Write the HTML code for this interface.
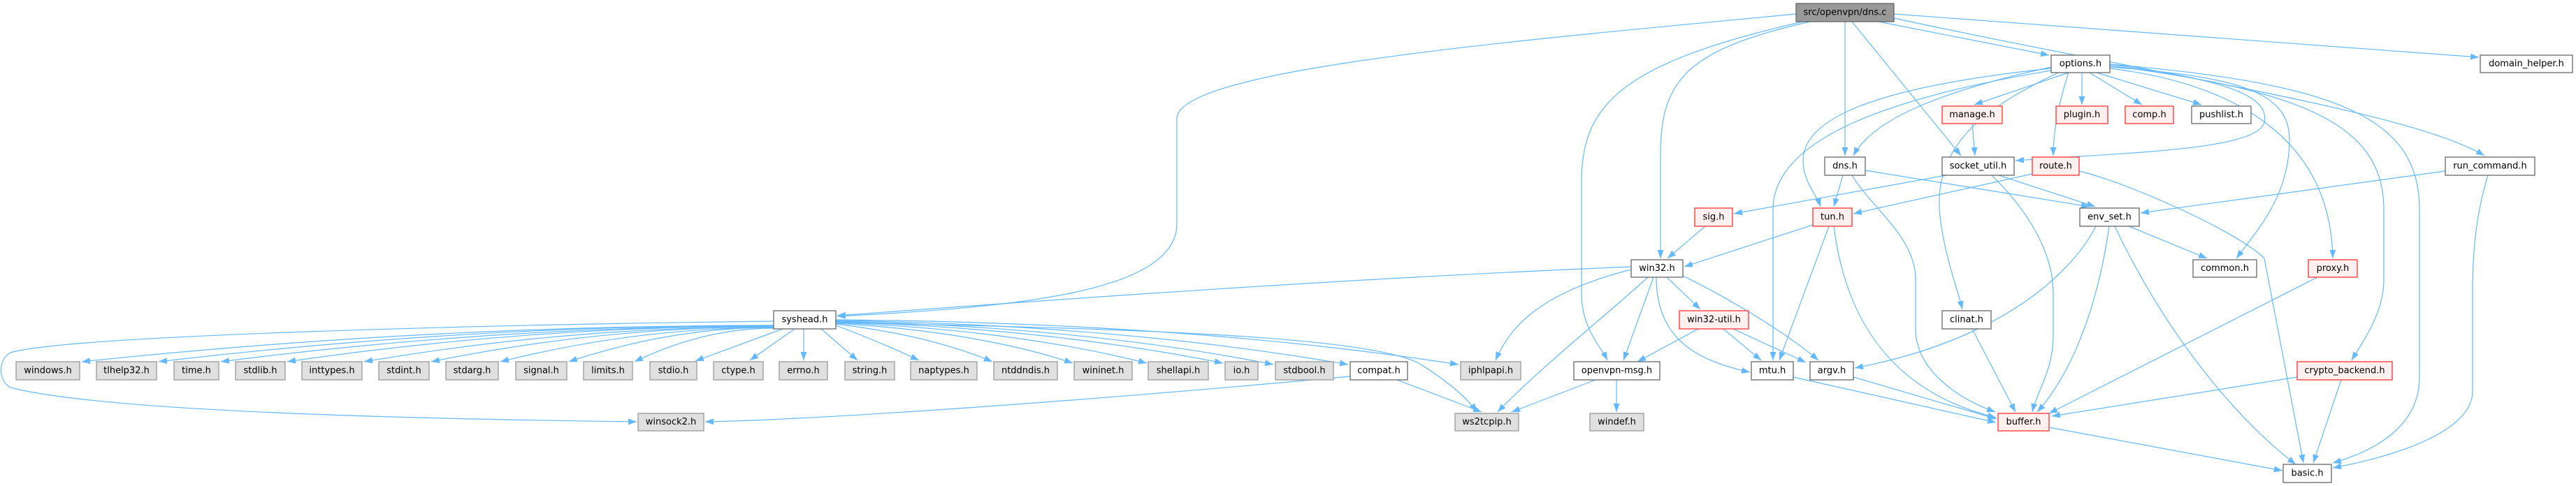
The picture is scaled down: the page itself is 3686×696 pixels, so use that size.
<!DOCTYPE html>
<html><head><meta charset="utf-8"><style>
html,body{margin:0;padding:0;background:#fff;}
svg{display:block;}
text{font-family:"DejaVu Sans","Liberation Sans",sans-serif;font-size:13px;fill:#000;text-anchor:middle;dominant-baseline:central;}
.e{fill:none;stroke:#63b8ff;stroke-width:1.2;marker-end:url(#a);}
.w{fill:#fff;stroke:#666;stroke-width:1.3;}
.g{fill:#e0e0e0;stroke:#999;stroke-width:1.3;}
.r{fill:#fff0f0;stroke:#ff3030;stroke-width:1.3;}
.k{fill:#999;stroke:#666;stroke-width:1.3;}
</style></head><body>
<svg width="3686" height="696" viewBox="0 0 3686 696" xmlns="http://www.w3.org/2000/svg">
<defs><marker id="a" markerUnits="userSpaceOnUse" markerWidth="13" markerHeight="10" refX="12" refY="4.5" orient="auto"><path d="M0,0 L12,4.5 L0,9 z" fill="#63b8ff"/></marker></defs>
<g>
<path class="e" d="M2570,20 C2150,60 1684,100 1684,170 L1684,320 C1684,420 1450,440 1198,453"/>
<path class="e" d="M2688,31 L2932,79"/>
<path class="e" d="M2710,20 L3547,82"/>
<path class="e" d="M2710,26 C3100,110 3450,160 3555,223"/>
<path class="e" d="M2640,31 L2640,223"/>
<path class="e" d="M2650,31 L2806,223"/>
<path class="e" d="M2590,31 C2420,70 2376,110 2376,220 L2376,370"/>
<path class="e" d="M2580,31 C2320,90 2263,150 2263,260 L2263,420 C2263,470 2290,495 2300,516"/>
<path class="e" d="M2960,104 L2825,150"/>
<path class="e" d="M2979,104 L2979,150"/>
<path class="e" d="M2990,104 L3065,150"/>
<path class="e" d="M3000,104 L3150,150"/>
<path class="e" d="M2935,96 C2780,130 2680,170 2652,223"/>
<path class="e" d="M3019,92 C3150,110 3250,130 3240,175 C3230,215 3050,218 2884,230"/>
<path class="e" d="M2960,104 C2945,150 2938,190 2938,223"/>
<path class="e" d="M2935,98 C2680,125 2580,170 2580,230 C2580,260 2600,280 2605,296"/>
<path class="e" d="M2935,101 C2700,140 2537,200 2537,300 L2537,516"/>
<path class="e" d="M2945,104 C2850,150 2770,200 2775,300 C2780,360 2800,410 2808,443"/>
<path class="e" d="M3019,96 C3200,110 3276,130 3276,200 C3276,280 3230,330 3200,370"/>
<path class="e" d="M3019,98 C3200,120 3335,200 3338,370"/>
<path class="e" d="M3019,94 C3300,130 3411,180 3411,300 L3411,400 C3411,450 3380,490 3365,516"/>
<path class="e" d="M3019,92 C3350,120 3462,170 3462,300 L3462,540 C3462,610 3400,645 3338,663"/>
<path class="e" d="M2822,177 L2826,223"/>
<path class="e" d="M2637,251 L2624,296"/>
<path class="e" d="M2669,244 L2990,296"/>
<path class="e" d="M2650,251 C2680,300 2741,340 2741,400 L2741,470 C2741,530 2800,570 2855,590"/>
<path class="e" d="M2785,251 L2481,306"/>
<path class="e" d="M2860,251 L2998,296"/>
<path class="e" d="M2850,251 C2900,300 2938,360 2938,420 L2938,480 C2938,530 2915,560 2908,590"/>
<path class="e" d="M2908,249 L2652,306"/>
<path class="e" d="M2975,245 C3040,260 3200,330 3240,370 L3296,663"/>
<path class="e" d="M3499,245 L3063,305"/>
<path class="e" d="M3560,251 C3545,300 3538,350 3538,420 L3538,560 C3538,620 3420,655 3338,670"/>
<path class="e" d="M2440,324 L2386,370"/>
<path class="e" d="M2594,322 L2410,382"/>
<path class="e" d="M2617,324 L2546,516"/>
<path class="e" d="M2624,324 C2640,450 2700,560 2856,598"/>
<path class="e" d="M2999,324 C2960,400 2850,490 2654,527"/>
<path class="e" d="M3018,324 C3000,450 2960,540 2915,590"/>
<path class="e" d="M3026,324 C3100,480 3200,600 3285,665"/>
<path class="e" d="M3046,324 L3158,370"/>
<path class="e" d="M3316,397 L2932,592"/>
<path class="e" d="M3287,540 L2936,596"/>
<path class="e" d="M3350,544 L3310,663"/>
<path class="e" d="M2932,612 L3266,674"/>
<path class="e" d="M2822,471 L2884,590"/>
<path class="e" d="M2334,382 C1900,400 1500,430 1198,452"/>
<path class="e" d="M2334,386 C2200,420 2160,470 2140,516"/>
<path class="e" d="M2358,397 C2300,450 2200,530 2143,590"/>
<path class="e" d="M2366,397 L2323,516"/>
<path class="e" d="M2370,397 C2370,480 2420,515 2504,533"/>
<path class="e" d="M2385,397 L2433,443"/>
<path class="e" d="M2408,395 C2480,430 2560,480 2602,516"/>
<path class="e" d="M2430,471 L2343,518"/>
<path class="e" d="M2466,471 L2520,516"/>
<path class="e" d="M2480,471 L2584,519"/>
<path class="e" d="M2283,544 L2163,590"/>
<path class="e" d="M2313,544 L2313,590"/>
<path class="e" d="M2566,540 L2856,605"/>
<path class="e" d="M2652,540 L2857,600"/>
<path class="e" d="M1999,544 L2120,590"/>
<path class="e" d="M1932,539 C1600,570 1200,600 1009,604"/>
<path class="e" d="M1107,460 C700,465 100,480 15,505 C-3,515 -3,545 15,555 C150,590 600,600 911,604"/>
<path class="e" d="M1196,462 C1600,470 1950,480 2030,520 C2070,545 2100,570 2113,590"/>
<path class="e" d="M1107,466 Q612,466 117,518"/>
<path class="e" d="M1107,466 Q667,466 227,518"/>
<path class="e" d="M1107,467 Q711,467 316,518"/>
<path class="e" d="M1107,467 Q759,467 411,518"/>
<path class="e" d="M1107,468 Q814,468 521,518"/>
<path class="e" d="M1107,468 Q862,468 617,518"/>
<path class="e" d="M1107,469 Q911,469 716,518"/>
<path class="e" d="M1107,469 Q960,469 814,518"/>
<path class="e" d="M1107,470 Q1007,470 908,518"/>
<path class="e" d="M1120,471 L995,517"/>
<path class="e" d="M1137,471 L1073,516"/>
<path class="e" d="M1150,471 L1150,516"/>
<path class="e" d="M1175,471 L1227,516"/>
<path class="e" d="M1196,466 Q1260,490 1315,516"/>
<path class="e" d="M1196,464 Q1330,480 1420,518"/>
<path class="e" d="M1196,463 Q1400,475 1535,520"/>
<path class="e" d="M1196,462 Q1450,472 1641,520"/>
<path class="e" d="M1196,461 Q1500,470 1750,520"/>
<path class="e" d="M1196,460 Q1550,468 1822,522"/>
<path class="e" d="M1196,459 Q1600,465 1929,522"/>
<path class="e" d="M1196,458 Q1700,462 2087,522"/>
</g>
<g>
<rect class="k" x="2570" y="5" width="140" height="26"/><text x="2640" y="18">src/openvpn/dns.c</text>
<rect class="w" x="2935" y="79" width="84" height="25"/><text x="2977" y="91.5">options.h</text>
<rect class="w" x="3549" y="79" width="132" height="25"/><text x="3615" y="91.5">domain_helper.h</text>
<rect class="r" x="2779" y="152" width="86" height="25"/><text x="2822" y="164.5">manage.h</text>
<rect class="r" x="2942" y="152" width="74" height="25"/><text x="2979" y="164.5">plugin.h</text>
<rect class="r" x="3041" y="152" width="69" height="25"/><text x="3075.5" y="164.5">comp.h</text>
<rect class="w" x="3136" y="152" width="85" height="25"/><text x="3178.5" y="164.5">pushlist.h</text>
<rect class="w" x="2611" y="225" width="58" height="26"/><text x="2640" y="238">dns.h</text>
<rect class="w" x="2779" y="225" width="103" height="26"/><text x="2830.5" y="238">socket_util.h</text>
<rect class="r" x="2908" y="225" width="67" height="26"/><text x="2941.5" y="238">route.h</text>
<rect class="w" x="3499" y="225" width="128" height="26"/><text x="3563" y="238">run_command.h</text>
<rect class="r" x="2425" y="298" width="54" height="26"/><text x="2452" y="311">sig.h</text>
<rect class="r" x="2594" y="298" width="56" height="26"/><text x="2622" y="311">tun.h</text>
<rect class="w" x="2976" y="298" width="85" height="26"/><text x="3018.5" y="311">env_set.h</text>
<rect class="w" x="2334" y="372" width="74" height="25"/><text x="2371" y="384.5">win32.h</text>
<rect class="w" x="3138" y="372" width="91" height="25"/><text x="3183.5" y="384.5">common.h</text>
<rect class="r" x="3303" y="372" width="70" height="25"/><text x="3338" y="384.5">proxy.h</text>
<rect class="w" x="1107" y="445" width="89" height="26"/><text x="1151.5" y="458">syshead.h</text>
<rect class="r" x="2403" y="445" width="99" height="26"/><text x="2452.5" y="458">win32-util.h</text>
<rect class="w" x="2779" y="445" width="70" height="26"/><text x="2814" y="458">clinat.h</text>
<rect class="g" x="23" y="518" width="91" height="26"/><text x="68.5" y="531">windows.h</text>
<rect class="g" x="138" y="518" width="86" height="26"/><text x="181" y="531">tlhelp32.h</text>
<rect class="g" x="249" y="518" width="64" height="26"/><text x="281" y="531">time.h</text>
<rect class="g" x="337" y="518" width="71" height="26"/><text x="372.5" y="531">stdlib.h</text>
<rect class="g" x="432" y="518" width="86" height="26"/><text x="475" y="531">inttypes.h</text>
<rect class="g" x="542" y="518" width="72" height="26"/><text x="578" y="531">stdint.h</text>
<rect class="g" x="638" y="518" width="75" height="26"/><text x="675.5" y="531">stdarg.h</text>
<rect class="g" x="738" y="518" width="73" height="26"/><text x="774.5" y="531">signal.h</text>
<rect class="g" x="835" y="518" width="70" height="26"/><text x="870" y="531">limits.h</text>
<rect class="g" x="930" y="518" width="67" height="26"/><text x="963.5" y="531">stdio.h</text>
<rect class="g" x="1021" y="518" width="71" height="26"/><text x="1056.5" y="531">ctype.h</text>
<rect class="g" x="1115" y="518" width="69" height="26"/><text x="1149.5" y="531">errno.h</text>
<rect class="g" x="1209" y="518" width="71" height="26"/><text x="1244.5" y="531">string.h</text>
<rect class="g" x="1303" y="518" width="95" height="26"/><text x="1350.5" y="531">naptypes.h</text>
<rect class="g" x="1422" y="518" width="91" height="26"/><text x="1467.5" y="531">ntddndis.h</text>
<rect class="g" x="1537" y="518" width="83" height="26"/><text x="1578.5" y="531">wininet.h</text>
<rect class="g" x="1643" y="518" width="86" height="26"/><text x="1686" y="531">shellapi.h</text>
<rect class="g" x="1753" y="518" width="47" height="26"/><text x="1776.5" y="531">io.h</text>
<rect class="g" x="1825" y="518" width="83" height="26"/><text x="1866.5" y="531">stdbool.h</text>
<rect class="w" x="1932" y="518" width="82" height="26"/><text x="1973" y="531">compat.h</text>
<rect class="g" x="2090" y="518" width="86" height="26"/><text x="2133" y="531">iphlpapi.h</text>
<rect class="w" x="2252" y="518" width="123" height="26"/><text x="2313.5" y="531">openvpn-msg.h</text>
<rect class="w" x="2506" y="518" width="60" height="26"/><text x="2536" y="531">mtu.h</text>
<rect class="w" x="2590" y="518" width="62" height="26"/><text x="2621" y="531">argv.h</text>
<rect class="r" x="3287" y="518" width="136" height="26"/><text x="3355" y="531">crypto_backend.h</text>
<rect class="g" x="913" y="592" width="94" height="25"/><text x="960" y="604.5">winsock2.h</text>
<rect class="g" x="2082" y="592" width="91" height="25"/><text x="2127.5" y="604.5">ws2tcpip.h</text>
<rect class="g" x="2275" y="592" width="77" height="25"/><text x="2313.5" y="604.5">windef.h</text>
<rect class="r" x="2859" y="592" width="73" height="25"/><text x="2895.5" y="604.5">buffer.h</text>
<rect class="w" x="3267" y="665" width="69" height="26"/><text x="3301.5" y="678">basic.h</text>
</g>
</svg>
</body></html>
